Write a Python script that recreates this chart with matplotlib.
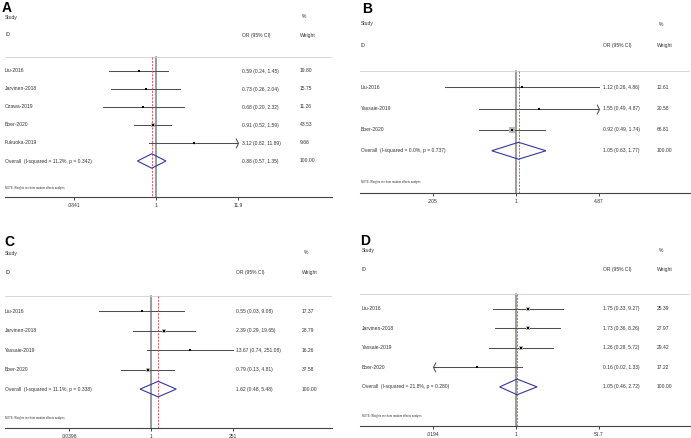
import matplotlib
matplotlib.use("Agg")
import matplotlib.pyplot as plt
import matplotlib.transforms as mtransforms
from matplotlib.path import Path
from matplotlib.ticker import NullLocator
import numpy as np

plt.rcParams["font.family"] = ["Liberation Sans", "DejaVu Sans"]

# ---- data ----
studies_a = ["Liu-2016", "Jarvinen-2018", "Ozawa-2019", "Boer-2020", "Fukuoka-2019"]
or_a = [0.59, 0.73, 0.68, 0.91, 3.12]
lo_a = [0.24, 0.26, 0.20, 0.52, 0.82]
hi_a = [1.45, 2.04, 2.32, 1.59, 11.89]
weight_a = [19.80, 15.75, 11.26, 43.53, 9.66]
clip_a = [0, 0, 0, 0, 1]
overall_a = [0.88, 0.57, 1.35]
stats_a = "I-squared = 11.2%, p = 0.342"
ticks_a = [0.0841, 1, 11.9]
ticklabels_a = [".0841", "1", "11.9"]

studies_b = ["Liu-2016", "Yassaie-2019", "Boer-2020"]
or_b = [1.12, 1.55, 0.92]
lo_b = [0.26, 0.49, 0.49]
hi_b = [4.86, 4.87, 1.74]
weight_b = [12.61, 20.58, 66.81]
clip_b = [0, 1, 0]
overall_b = [1.05, 0.63, 1.77]
stats_b = "I-squared = 0.0%, p = 0.737"
ticks_b = [0.205, 1, 4.87]
ticklabels_b = [".205", "1", "4.87"]

studies_c = ["Liu-2016", "Jarvinen-2018", "Yassaie-2019", "Boer-2020"]
or_c = [0.55, 2.39, 13.67, 0.79]
lo_c = [0.03, 0.29, 0.74, 0.13]
hi_c = [9.08, 19.65, 251.08, 4.81]
weight_c = [17.37, 28.79, 16.26, 37.58]
clip_c = [0, 0, 0, 0]
overall_c = [1.62, 0.48, 5.48]
stats_c = "I-squared = 11.1%, p = 0.338"
ticks_c = [0.00398, 1, 251]
ticklabels_c = [".00398", "1", "251"]

studies_d = ["Liu-2016", "Jarvinen-2018", "Yassaie-2019", "Boer-2020"]
or_d = [1.75, 1.73, 1.26, 0.16]
lo_d = [0.33, 0.36, 0.28, 0.02]
hi_d = [9.27, 8.26, 5.72, 1.33]
weight_d = [25.39, 27.97, 29.42, 17.22]
clip_d = [0, 0, 0, -1]
overall_d = [1.05, 0.46, 2.72]
stats_d = "I-squared = 21.8%, p = 0.280"
ticks_d = [0.0194, 1, 51.7]
ticklabels_d = [".0194", "1", "51.7"]

W, H = 691, 438
fig = plt.figure(figsize=(W / 100, H / 100), dpi=100)
fig.patch.set_facecolor("white")

TXT = "#333333"
FS = 3.6

right_arrow = Path([(-0.5, 1), (0, 0), (-0.5, -1)],
                   [Path.MOVETO, Path.LINETO, Path.LINETO])
left_arrow = Path([(0.5, 1), (0, 0), (0.5, -1)],
                  [Path.MOVETO, Path.LINETO, Path.LINETO])


def panel(letter, box, studies, est, lo, hi, wt, clip, overall, stats,
          ticks, ticklabels, cols, label_xy):
    left, right, top, bottom, p_one, p_hi = box
    ax = fig.add_axes([left / W, 1 - bottom / H, (right - left) / W, (bottom - top) / H])
    n = len(studies)
    # x limits so that the ticks land where they are in the reference
    s = (p_hi - p_one) / np.log10(ticks[2])
    ax.set_xscale("log")
    ax.set_xlim(10 ** ((left - p_one) / s), 10 ** ((right - p_one) / s))
    ax.set_ylim(n + 2, -3)

    for sp in ["top", "left", "right"]:
        ax.spines[sp].set_visible(False)
    ax.spines["bottom"].set_color("#444444")
    ax.spines["bottom"].set_linewidth(0.8)
    ax.set_yticks([])
    ax.set_xticks(ticks)
    ax.set_xticklabels(ticklabels)
    ax.xaxis.set_minor_locator(NullLocator())
    ax.tick_params(axis="x", length=2.5, width=0.7, color="#444444",
                   labelsize=FS, labelcolor=TXT, pad=2)

    tr = mtransforms.blended_transform_factory(ax.transAxes, ax.transData)
    xl, xor, xw = cols
    ax.text(xl, -3, "Study", transform=tr, fontsize=FS, color=TXT, va="center")
    ax.text(xl, -2, "ID", transform=tr, fontsize=FS, color=TXT, va="center")
    ax.text(xor, -2, "OR (95% CI)", transform=tr, fontsize=FS, color=TXT, va="center")
    ax.text(xw + 0.006, -3, "%", transform=tr, fontsize=FS, color=TXT, va="center")
    ax.text(xw, -2, "Weight", transform=tr, fontsize=FS, color=TXT, va="center")
    ax.axhline(-0.77, color="#d0d0d0", lw=0.6)

    ax.plot([1, 1], [-0.77, n + 2], color="#808080", lw=1.1, zorder=1)
    ax.plot([overall[0], overall[0]], [-0.77, n + 2], color="#d04848", lw=0.6,
            ls=(0, (2.5, 1.5)), zorder=4)

    lo_lim, hi_lim = ticks[0], ticks[2]
    for i in range(n):
        a = max(lo[i], lo_lim) if clip[i] != -1 else lo_lim
        b = min(hi[i], hi_lim) if clip[i] != 1 else hi_lim
        ax.plot([a, b], [i, i], color="#505050", lw=0.75, zorder=2)
        if clip[i] == 1:
            ax.plot([b], [i], marker=right_arrow, ms=7, mfc="none",
                    mec="#505050", mew=0.75, zorder=2)
        if clip[i] == -1:
            ax.plot([a], [i], marker=left_arrow, ms=7, mfc="none",
                    mec="#505050", mew=0.75, zorder=2)
        ax.plot([est[i]], [i], marker="s", ms=0.45 * np.sqrt(wt[i]),
                color="#b8b8b8", mew=0, zorder=3)
        ax.plot([est[i]], [i], marker="s", ms=1.7, color="black", mew=0, zorder=5)
        ax.text(xl, i, studies[i], transform=tr, fontsize=FS, color=TXT, va="center")
        ax.text(xor, i, f"{est[i]:.2f} ({lo[i]:.2f}, {hi[i]:.2f})", transform=tr,
                fontsize=FS, color=TXT, va="center")
        ax.text(xw, i, f"{wt[i]:.2f}", transform=tr, fontsize=FS, color=TXT, va="center")

    e, l, h = overall
    ax.fill([l, e, h, e, l], [n, n - 0.4, n, n + 0.4, n], fc="none",
            ec="#34399a", lw=0.8, zorder=4)
    ax.text(xl, n, f"Overall  ({stats})", transform=tr, fontsize=FS, color=TXT, va="center")
    ax.text(xor, n, f"{e:.2f} ({l:.2f}, {h:.2f})", transform=tr, fontsize=FS,
            color=TXT, va="center")
    ax.text(xw, n, "100.00", transform=tr, fontsize=FS, color=TXT, va="center")
    ax.text(xl, n + 1.5, "NOTE: Weights are from random effects analysis", transform=tr,
            fontsize=2.0, color=TXT, va="center")

    fig.text(label_xy[0] / W, 1 - label_xy[1] / H, letter, fontsize=10,
             fontweight="bold", va="top", ha="left")


panel("A", (5, 332, 17, 197, 156, 238), studies_a, or_a, lo_a, hi_a, weight_a, clip_a,
      overall_a, stats_a, ticks_a, ticklabels_a, (0.0, 0.725, 0.902), (2, 1))
panel("B", (360, 690, 24, 193, 516, 599), studies_b, or_b, lo_b, hi_b, weight_b, clip_b,
      overall_b, stats_b, ticks_b, ticklabels_b, (0.003, 0.736, 0.9), (362, 2))
panel("C", (5, 332, 253, 428, 151, 233), studies_c, or_c, lo_c, hi_c, weight_c, clip_c,
      overall_c, stats_c, ticks_c, ticklabels_c, (0.0, 0.706, 0.908), (4, 235))
panel("D", (360, 690, 250, 426, 516, 599), studies_d, or_d, lo_d, hi_d, weight_d, clip_d,
      overall_d, stats_d, ticks_d, ticklabels_d, (0.006, 0.736, 0.9), (360, 234))

fig.savefig("out.png", dpi=100, facecolor="white")
